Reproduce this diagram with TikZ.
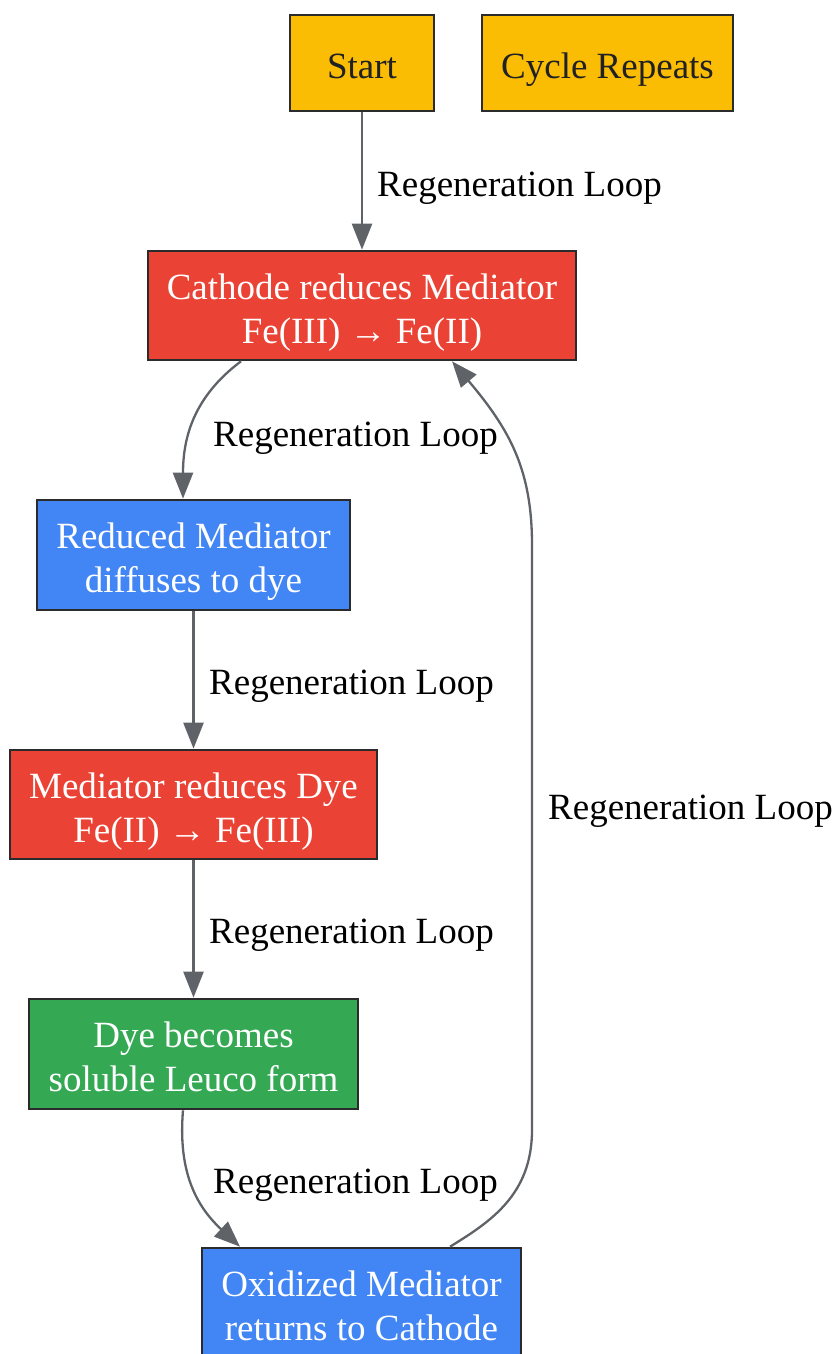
\documentclass[tikz,border=0pt]{standalone}
\usepackage{fontspec}
\setmainfont{Liberation Serif}
\usetikzlibrary{arrows.meta}
\definecolor{gyellow}{HTML}{FBBC04}
\definecolor{gred}{HTML}{EA4335}
\definecolor{gblue}{HTML}{4285F4}
\definecolor{ggreen}{HTML}{34A853}
\definecolor{edgec}{HTML}{5F6368}
\definecolor{borderc}{HTML}{2B2B2B}
\definecolor{darktext}{HTML}{202124}
\newcommand{\tprule}{\rule{0pt}{45pt}}
\newcommand{\btrule}{\rule[-13.2pt]{0pt}{13.2pt}}
\tikzset{
  box/.style={draw=borderc, line width=2.6pt, rectangle, align=center, inner sep=0pt,
    font=\fontsize{37}{44}\selectfont},
  ybox/.style={box, fill=gyellow, text=darktext},
  rbox/.style={box, fill=gred, text=white},
  bbox/.style={box, fill=gblue, text=white},
  gbox/.style={box, fill=ggreen, text=white},
  conn/.style={draw=edgec, line width=2.3pt, -{Triangle[length=26pt,width=20pt]}},
  lbl/.style={anchor=base west, inner sep=0pt, font=\fontsize{37}{44}\selectfont, text=black}
}
\begin{document}
\begin{tikzpicture}[x=1pt,y=-1pt]
\useasboundingbox (0,0) rectangle (837,1354);
\node[ybox, minimum width=144pt, minimum height=96pt] (start) at (362,63) {\tprule Start\btrule};
\node[ybox, minimum width=251pt, minimum height=96pt] (cycle) at (607.5,63) {\tprule Cycle Repeats\btrule};
\node[rbox, minimum width=428pt, minimum height=109pt] (cathode) at (362,305.5) {\tprule Cathode reduces Mediator\\Fe(III) → Fe(II)\btrule};
\node[bbox, minimum width=313pt, minimum height=110pt] (reduced) at (193.5,555) {\tprule Reduced Mediator\\diffuses to dye\btrule};
\node[rbox, minimum width=367pt, minimum height=109pt] (medred) at (193.5,804.5) {\tprule Mediator reduces Dye\\Fe(II) → Fe(III)\btrule};
\node[gbox, minimum width=329pt, minimum height=110pt] (dye) at (193.5,1054) {\tprule Dye becomes\\soluble Leuco form\btrule};
\node[bbox, minimum width=319pt, minimum height=110pt] (oxid) at (361.5,1303) {\tprule Oxidized Mediator\\returns to Cathode\btrule};

\draw[conn] (start.south) -- (cathode.north);
\draw[conn] ([xshift=-121pt]cathode.south) .. controls (192,398) and (183,440) .. ([xshift=-10.5pt]reduced.north);
\draw[conn] (reduced.south) -- (medred.north);
\draw[conn] (medred.south) -- (dye.north);
\draw[conn] ([xshift=-10.5pt]dye.south) .. controls (178,1170) and (195,1205) .. ([xshift=-121.5pt]oxid.north);
\draw[conn] ([xshift=88.5pt]oxid.north) .. controls (490,1222) and (532,1195) .. (532,1130)
  -- (532,545) .. controls (532,470) and (510,430) .. ([xshift=90pt]cathode.south);

\node[lbl] (l1) at (377,196) {Regeneration Loop};
\node[lbl] (l2) at (213,446) {Regeneration Loop};
\node[lbl] (l3) at (209,694) {Regeneration Loop};
\node[lbl] (l4) at (209,943) {Regeneration Loop};
\node[lbl] (l5) at (213,1193) {Regeneration Loop};
\node[lbl] (l6) at (548,819) {Regeneration Loop};
\end{tikzpicture}
\end{document}
